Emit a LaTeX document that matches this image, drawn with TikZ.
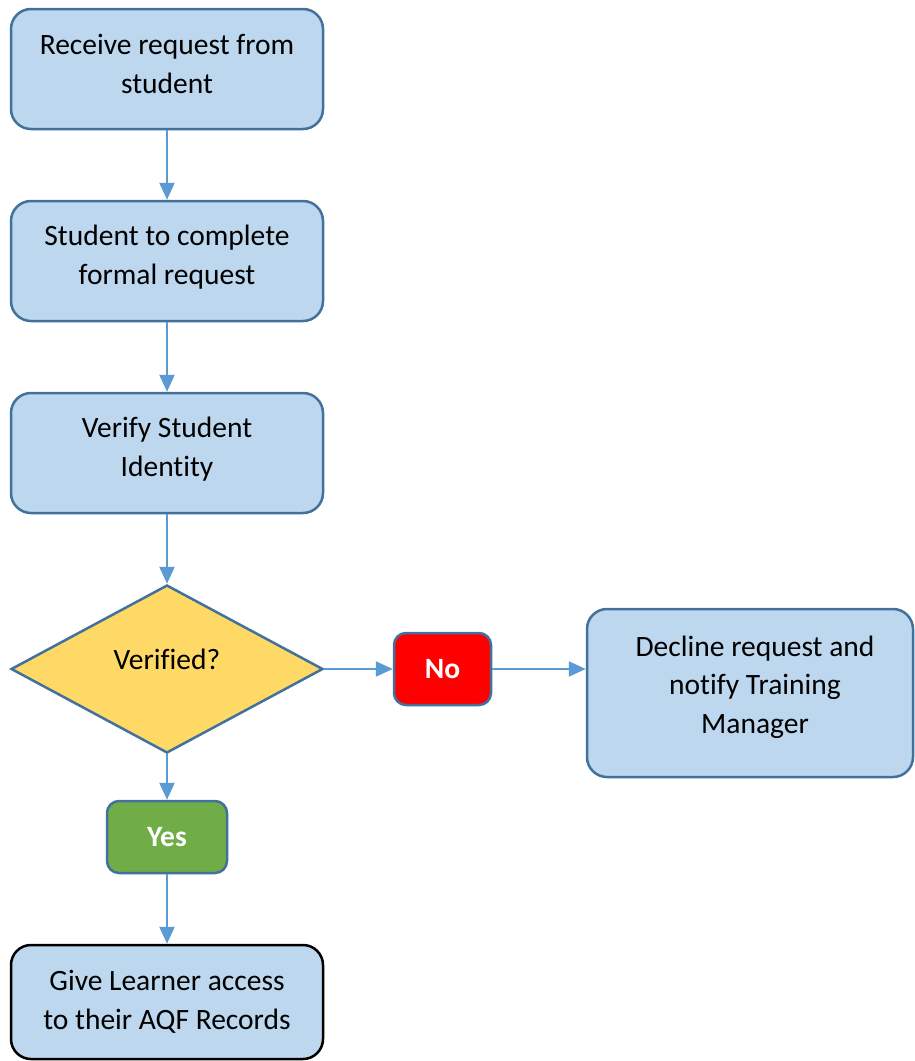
\documentclass[tikz,border=0pt]{standalone}
\usepackage{fontspec}
\setmainfont[Ligatures=NoCommon]{Carlito}
\usetikzlibrary{shapes.geometric,arrows.meta}
\definecolor{boxfill}{HTML}{BDD7EE}
\definecolor{boxline}{HTML}{41719C}
\definecolor{flowline}{HTML}{5B9BD5}
\definecolor{decisionfill}{HTML}{FFD966}
\definecolor{nofill}{HTML}{FF0000}
\definecolor{yesfill}{HTML}{70AD47}
\begin{document}
\begin{tikzpicture}[x=1pt,y=-1pt,
  every node/.style={font=\fontsize{29.5}{38.5}\selectfont, align=center, inner sep=0pt},
  stepbox/.style={draw=boxline, fill=boxfill, line width=2.5pt, rounded corners=20pt,
    minimum width=312pt, minimum height=120pt},
  decision/.style={draw=boxline, fill=decisionfill, line width=2.5pt, diamond,
    aspect=1.857, minimum width=312pt, minimum height=168pt},
  answer/.style={draw=boxline, line width=2.5pt, rounded corners=12pt,
    text=white, font=\fontsize{29.5}{34}\selectfont\bfseries, minimum height=72pt},
  flow/.style={draw=flowline, line width=2.2pt, -{Triangle[length=17pt,width=15pt]}}
]
\useasboundingbox (0,0) rectangle (915,1061);
\fill[white] (0,0) rectangle (915,1061);

\node[stepbox] (receive) at (167,69) {};
\node at (167,64) {Receive request from\\student};

\node[stepbox] (complete) at (167,261) {};
\node at (167,257) {Student to complete\\formal request};

\node[stepbox] (verify) at (167,453) {};
\node at (167,449) {Verify Student\\Identity};

\node[decision] (verified) at (167,669) {};
\node at (167,659) {Verified?};

\node[answer, fill=nofill, minimum width=97pt] (no) at (442.5,669) {No};

\node[stepbox, minimum width=326pt, minimum height=168pt] (decline) at (750,693) {};
\node at (755,687) {Decline request and\\notify Training\\Manager};

\node[answer, fill=yesfill, minimum width=120pt] (yes) at (167,837) {Yes};

\node[stepbox, draw=black, minimum height=114pt] (access) at (167,1002) {};
\node at (167,1002) {Give Learner access\\to their AQF Records};

\draw[flow] (receive.south) -- (complete.north);
\draw[flow] (complete.south) -- (verify.north);
\draw[flow] (verify.south) -- (verified.north);
\draw[flow] (verified.east) -- (no.west);
\draw[flow] (no.east) -- (no.east -| decline.west);
\draw[flow] (verified.south) -- (yes.north);
\draw[flow] (yes.south) -- (access.north);
\end{tikzpicture}
\end{document}
